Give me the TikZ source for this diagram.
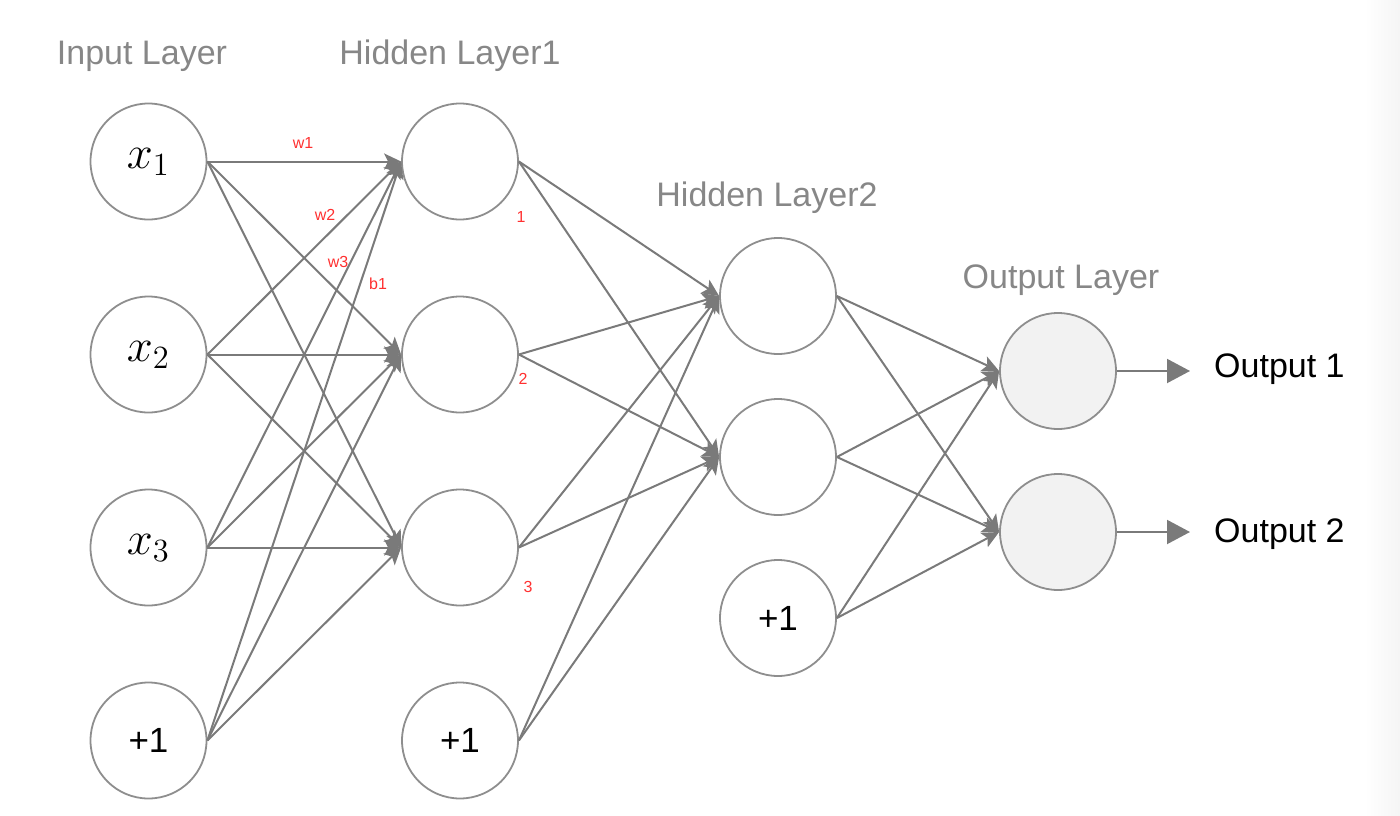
\documentclass[tikz,border=0pt]{standalone}
\usepackage[no-math]{fontspec}
\setmainfont{Liberation Sans}
\usetikzlibrary{arrows.meta}
\definecolor{edgegray}{HTML}{7A7A7A}
\definecolor{circgray}{HTML}{8E8E8E}
\definecolor{titlegray}{HTML}{878787}
\definecolor{wred}{HTML}{FF3030}
\definecolor{outfill}{HTML}{F2F2F2}
\newcommand{\xin}[1]{\LARGE\raisebox{-4pt}{\scalebox{2.7}{$x_{#1}$}}}
\begin{document}
\begin{tikzpicture}[x=1pt,y=-1pt,
  neuron/.style={circle,draw=circgray,line width=1.8pt,minimum size=116pt,inner sep=0pt,fill=white},
  outneuron/.style={neuron,fill=outfill},
  conn/.style={draw=edgegray,line width=2pt,-{Stealth[length=17pt,width=16pt,inset=4pt]}},
  outconn/.style={draw=edgegray,line width=2pt,-{Triangle[length=23pt,width=24pt]}},
  title/.style={text=titlegray,font=\fontsize{34}{40}\selectfont,anchor=base},
  wlabel/.style={text=wred,font=\fontsize{16}{18}\selectfont},
  plus/.style={font=\fontsize{35}{40}\selectfont,text depth=-6pt},
  outtext/.style={font=\fontsize{34}{40}\selectfont,anchor=base west,inner sep=0pt}]
\useasboundingbox (0,0) rectangle (1400,816);
\shade[left color=white,right color=black!4] (1365,0) rectangle (1400,816);

% titles
\node[title] (tin) at (142,64) {Input Layer};
\node[title] (th1) at (450,64) {Hidden Layer1};
\node[title] (th2) at (767,206) {Hidden Layer2};
\node[title] (tout) at (1061,288) {Output Layer};

% input layer
\node[neuron] (i1) at (148.5,161.5) {\xin{1}};
\node[neuron] (i2) at (148.5,354.5) {\xin{2}};
\node[neuron] (i3) at (148.5,547.5) {\xin{3}};
\node[neuron,plus] (i4) at (148.5,740.5) {+1};

% hidden layer 1
\node[neuron] (a1) at (460,161.5) {};
\node[neuron] (a2) at (460,354.5) {};
\node[neuron] (a3) at (460,547.5) {};
\node[neuron,plus] (a4) at (460,740.5) {+1};

% hidden layer 2
\node[neuron] (b1) at (778,296) {};
\node[neuron] (b2) at (778,457) {};
\node[neuron,plus] (b3) at (778,618) {+1};

% output layer
\node[outneuron] (o1) at (1058,371) {};
\node[outneuron] (o2) at (1058,532) {};

% connections
\foreach \s in {i1,i2,i3,i4}
  \foreach \t in {a1,a2,a3}
    \draw[conn] (\s.east) -- (\t.west);
\foreach \s in {a1,a2,a3,a4}
  \foreach \t in {b1,b2}
    \draw[conn] (\s.east) -- (\t.west);
\foreach \s in {b1,b2,b3}
  \foreach \t in {o1,o2}
    \draw[conn] (\s.east) -- (\t.west);

% outputs
\coordinate (e1) at (1190,371);
\coordinate (e2) at (1190,532);
\draw[outconn] (o1.east) -- (e1);
\draw[outconn] (o2.east) -- (e2);
\node[outtext] (out1) at (1214,377) {Output 1};
\node[outtext] (out2) at (1214,542) {Output 2};

% red labels
\node[wlabel] (lw1) at (303,143) {w1};
\node[wlabel] (lw2) at (325,215) {w2};
\node[wlabel] (lw3) at (338,262) {w3};
\node[wlabel] (lb1) at (378,284) {b1};
\node[wlabel] (l1) at (521,217) {1};
\node[wlabel] (l2) at (523,379) {2};
\node[wlabel] (l3) at (528,587) {3};
\end{tikzpicture}
\end{document}
